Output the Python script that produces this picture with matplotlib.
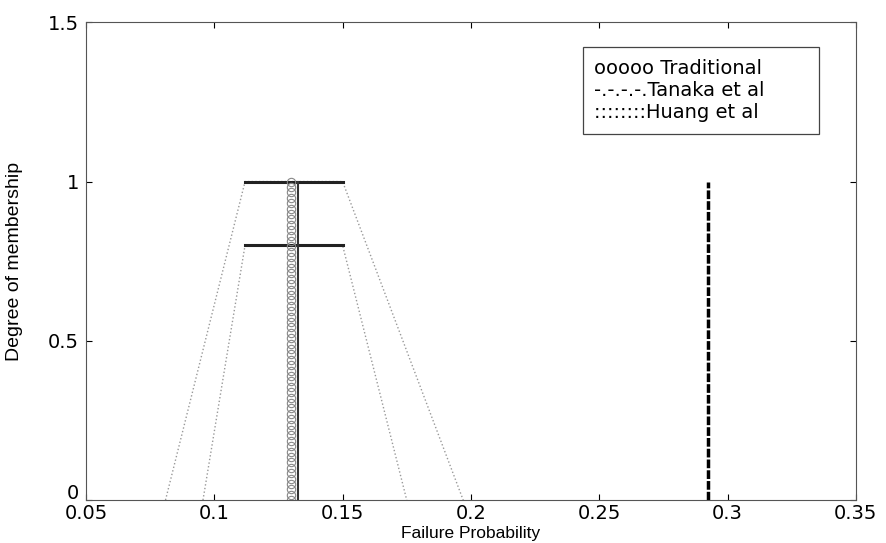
import numpy as np
from matplotlib import pyplot as plt
from matplotlib.patches import Rectangle
from matplotlib.transforms import ScaledTranslation

plt.rcParams['font.family'] = ['DejaVu Sans']

# Huang et al (trapezoidal membership, outer and inner alpha cuts)
huang_outer_x = [0.081, 0.112, 0.150, 0.197]
huang_outer_y = [0, 1, 1, 0]
huang_inner_x = [0.0956, 0.112, 0.150, 0.175]
huang_inner_y = [0, 0.8, 0.8, 0]

# horizontal cut lines
cut_levels = [1.0, 0.8]
cut_left = [0.112, 0.112]
cut_right = [0.150, 0.150]

# Traditional (crisp value)
trad_x = 0.130
trad_right = 0.1325
trad_y = np.linspace(0, 1, 60)

# Tanaka et al (crisp)
tanaka_x = 0.2925

xticks = [0.05, 0.1, 0.15, 0.2, 0.25, 0.3, 0.35]
xticklabels = ['0.05', '0.1', '0.15', '0.2', '0.25', '0.3', '0.35']
yticks = [0, 0.5, 1, 1.5]
yticklabels = ['0', '0.5', '1', '1.5']

legend_lines = ['ooooo Traditional', '-.-.-.-.Tanaka et al', '::::::::Huang et al']

fig = plt.figure(figsize=(8.86, 5.43), dpi=100)
ax = fig.add_axes([0.097, 0.079, 0.869, 0.880])

ax.plot(huang_outer_x, huang_outer_y, ':', color='#999999', lw=1.0)
ax.plot(huang_inner_x, huang_inner_y, ':', color='#999999', lw=1.0)

for lv, l, r in zip(cut_levels, cut_left, cut_right):
    ax.plot([l, r], [lv, lv], '-', color='#222222', lw=2.2)

ax.plot(np.full_like(trad_y, trad_x), trad_y, 'o', mfc='none', mec='#888888',
        ms=6, mew=0.8)
ax.plot([trad_right, trad_right], [0, 1], '-', color='#333333', lw=1.5)

ax.plot([tanaka_x, tanaka_x], [0, 1], '--', color='black', lw=2.5,
        dashes=(2.5, 0.6))

ax.set_xlim(0.05, 0.35)
ax.set_ylim(0, 1.5)
ax.set_xticks(xticks)
ax.set_xticklabels(xticklabels, fontsize=14)
ax.set_yticks(yticks)
ax.set_yticklabels(yticklabels, fontsize=14)
ax.tick_params(direction='in', top=True, right=True, length=4, width=0.8)
ax.tick_params(axis='x', pad=3)
ax.tick_params(axis='y', pad=5)
for s in ax.spines.values():
    s.set_color('#555555')
    s.set_linewidth(0.8)

# the "0" label sits a bit above the axis, like in the original
lab0 = ax.get_yticklabels()[0]
lab0.set_transform(lab0.get_transform() + ScaledTranslation(0, 6 / 72, fig.dpi_scale_trans))

ax.set_xlabel('Failure Probability', fontsize=12.5,
              family=['Liberation Sans', 'DejaVu Sans'])
ax.xaxis.set_label_coords(0.5, -0.054)
ax.set_ylabel('Degree of membership', fontsize=14,
              family=['Liberation Sans Narrow', 'Liberation Sans'])
ax.yaxis.set_label_coords(-0.082, 0.5)

# legend box drawn as text
ax.add_patch(Rectangle((0.645, 0.766), 0.307, 0.182, transform=ax.transAxes,
                       fill=False, ec='#444444', lw=0.9))
for i, t in enumerate(legend_lines):
    ax.text(0.66, 0.904 - i * 0.046, t, transform=ax.transAxes,
            fontsize=14, va='center', ha='left')

plt.savefig('out.png', dpi=100)
